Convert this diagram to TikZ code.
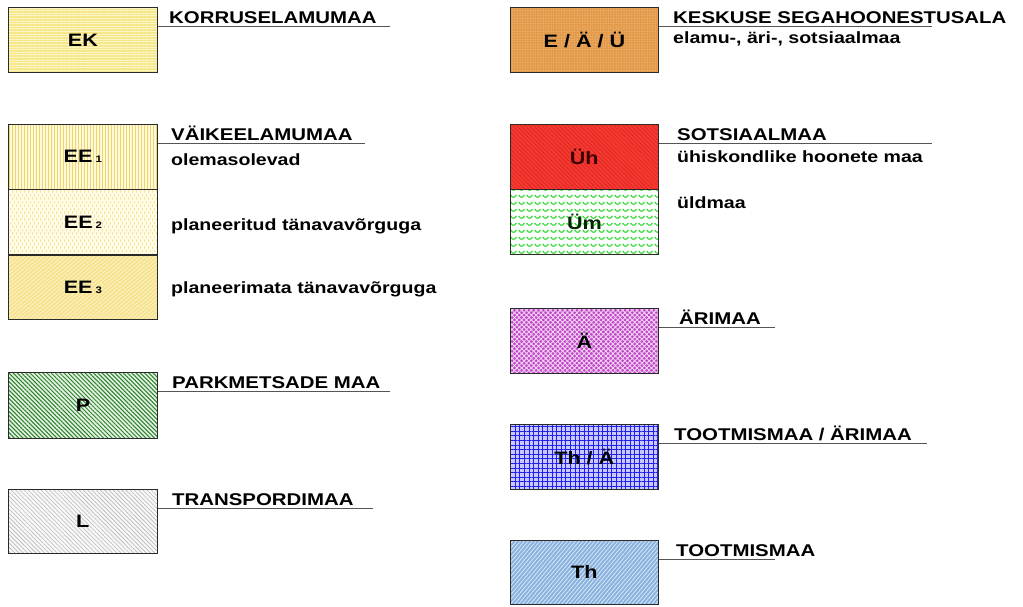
\documentclass[tikz,border=0pt]{standalone}
\usepackage{fontspec}
\setmainfont{Liberation Sans}[FakeStretch=1.2]
\usetikzlibrary{patterns,patterns.meta}
\pgfdeclarepatternformonly{scallop}{\pgfqpoint{0pt}{0pt}}{\pgfqpoint{7.5pt}{7pt}}{\pgfqpoint{7.5pt}{7pt}}{%
  \pgfsetlinewidth{1.4pt}%
  \pgfpathmoveto{\pgfqpoint{0.8pt}{5.6pt}}%
  \pgfpathquadraticcurveto{\pgfqpoint{3.75pt}{0.4pt}}{\pgfqpoint{6.7pt}{5.6pt}}%
  \pgfusepath{stroke}}
\pgfdeclarepatternformonly{vdash}{\pgfqpoint{0pt}{0pt}}{\pgfqpoint{4pt}{7pt}}{\pgfqpoint{4pt}{7pt}}{%
  \pgfsetlinewidth{0.8pt}%
  \pgfpathmoveto{\pgfqpoint{1pt}{0.5pt}}\pgfpathlineto{\pgfqpoint{1pt}{3pt}}%
  \pgfpathmoveto{\pgfqpoint{3pt}{4pt}}\pgfpathlineto{\pgfqpoint{3pt}{6.5pt}}%
  \pgfusepath{stroke}}
\definecolor{bordc}{HTML}{2A2A2A}
\definecolor{linec}{HTML}{555555}
\definecolor{ekfill}{HTML}{F6E78A}\definecolor{ekpat}{HTML}{FCF6CC}
\definecolor{eeafill}{HTML}{FFFAD6}\definecolor{eeapat}{HTML}{EED474}
\definecolor{eebfill}{HTML}{FFFCE8}\definecolor{eebpat}{HTML}{F0D468}
\definecolor{eecfill}{HTML}{F7E38E}\definecolor{eecpat}{HTML}{FDF3CC}
\definecolor{pfill}{HTML}{E2F2E0}\definecolor{ppat}{HTML}{2F7F2F}
\definecolor{lfill}{HTML}{F8F8F8}\definecolor{lpat}{HTML}{B8B8B8}
\definecolor{efill}{HTML}{E39A4A}\definecolor{epat}{HTML}{F0C080}
\definecolor{uhfill}{HTML}{F43A30}\definecolor{uhpat}{HTML}{D82020}
\definecolor{umpat}{HTML}{44DD44}
\definecolor{afill}{HTML}{C048C8}\definecolor{apat}{HTML}{F2D2F2}
\definecolor{tafill}{HTML}{C8C8FF}\definecolor{tapat}{HTML}{2020E8}
\definecolor{thfill}{HTML}{8AB2DE}\definecolor{thpat}{HTML}{D8E8F8}
\definecolor{uhtext}{HTML}{3C0000}
\definecolor{umtext}{HTML}{002800}
\newcommand\hdfont{\fontsize{17}{19}\selectfont\bfseries}
\newcommand\sbfont{\fontsize{16.3}{18}\selectfont\bfseries}
\newcommand\bxfont{\fontsize{18}{20}\selectfont\bfseries}
\newcommand\subdig[1]{\,{\fontsize{9.5}{9.5}\selectfont #1}}
\begin{document}
\begin{tikzpicture}[x=1pt,y=-1pt,
  landbox/.style={draw=bordc, line width=0.9pt, minimum width=149pt, minimum height=65pt,
    inner sep=0pt, anchor=north west, font=\bxfont},
  heading/.style={anchor=base west, inner sep=0pt, font=\hdfont},
  subtext/.style={anchor=base west, inner sep=0pt, font=\sbfont},
  uline/.style={draw=linec, line width=0.9pt}]
\useasboundingbox (0,0) rectangle (1023,606);
% ---------- left column ----------
\node[landbox, preaction={fill=ekfill}, pattern={Lines[angle=0,distance=2.6pt,line width=0.7pt]}, pattern color=ekpat] (ek) at (8,7) {EK};
\node[landbox, preaction={fill=eeafill}, pattern={Lines[angle=90,distance=3pt,line width=0.6pt]}, pattern color=eeapat] (ee1) at (8,124) {EE\subdig{1}};
\node[landbox, preaction={fill=eebfill}, pattern=vdash, pattern color=eebpat] (ee2) at (8,189) {EE\subdig{2}};
\node[landbox, minimum height=64pt, preaction={fill=eecfill}, pattern={Lines[angle=40,distance=3pt,line width=0.8pt]}, pattern color=eecpat] (ee3) at (8,255) {EE\subdig{3}};
\node[landbox, minimum height=66pt, preaction={fill=pfill}, pattern={Lines[angle=-45,distance=3pt,line width=1.0pt]}, pattern color=ppat] (p) at (8,372) {P};
\node[landbox, minimum height=64pt, preaction={fill=lfill}, pattern={Lines[angle=-45,distance=3pt,line width=0.6pt]}, pattern color=lpat] (l) at (8,489) {L};
% ---------- right column ----------
\node[landbox, minimum width=148pt, preaction={fill=efill}, pattern={Dots[distance=2.6pt,radius=0.6pt]}, pattern color=epat] (e) at (510,7) {E / Ä / Ü};
\node[landbox, minimum width=148pt, preaction={fill=uhfill}, pattern={Lines[angle=-45,distance=3pt,line width=0.5pt]}, pattern color=uhpat, text=uhtext] (uh) at (510,124) {Üh};
\node[landbox, minimum width=148pt, preaction={fill=white}, pattern=scallop, pattern color=umpat, text=umtext] (um) at (510,189) {Üm};
\node[landbox, minimum width=148pt, preaction={fill=afill}, pattern={Hatch[angle=45,distance=3.4pt,line width=0.9pt]}, pattern color=apat] (a) at (510,308) {Ä};
\node[landbox, minimum width=148pt, preaction={fill=tafill}, pattern={Hatch[angle=0,distance=4.6pt,line width=0.7pt]}, pattern color=tapat] (ta) at (510,424) {Th / Ä};
\node[landbox, minimum width=148pt, minimum height=64pt, preaction={fill=thfill}, pattern={Lines[angle=50,distance=3pt,line width=0.8pt]}, pattern color=thpat] (th) at (510,540) {Th};
% ---------- headings & texts ----------
\node[heading] (ekh) at (169,23.5) {KORRUSELAMUMAA};
\node[heading] (eeh) at (171,140.5) {VÄIKEELAMUMAA};
\node[subtext] (ee1t) at (171,165) {olemasolevad};
\node[subtext] (ee2t) at (171,230) {planeeritud tänavavõrguga};
\node[subtext] (ee3t) at (171,293) {planeerimata tänavavõrguga};
\node[heading] (ph) at (172,388.5) {PARKMETSADE MAA};
\node[heading] (lh) at (172,505.5) {TRANSPORDIMAA};
\node[heading] (eh) at (673,23.5) {KESKUSE SEGAHOONESTUSALA};
\node[subtext] (et) at (673,43) {elamu-, äri-, sotsiaalmaa};
\node[heading] (sh) at (677,140.5) {SOTSIAALMAA};
\node[subtext] (uht) at (677,162) {ühiskondlike hoonete maa};
\node[subtext] (umt) at (677,208) {üldmaa};
\node[heading] (ah) at (679,324.5) {ÄRIMAA};
\node[heading] (tah) at (674,440.5) {TOOTMISMAA / ÄRIMAA};
\node[heading] (thh) at (676,556.5) {TOOTMISMAA};
% ---------- underline ends ----------
\coordinate (ekend) at (390,26);
\coordinate (eeend) at (365,143);
\coordinate (pend) at (390,391);
\coordinate (lend) at (373,508);
\coordinate (eend) at (932,26);
\coordinate (send) at (932,143);
\coordinate (aend) at (775,327);
\coordinate (taend) at (927,443);
\coordinate (thend) at (775,559);
% ---------- underlines ----------
\draw[uline] (ek.east |- ekend) -- (ekend);
\draw[uline] (ee1.east |- eeend) -- (eeend);
\draw[uline] (p.east |- pend) -- (pend);
\draw[uline] (l.east |- lend) -- (lend);
\draw[uline] (e.east |- eend) -- (eend);
\draw[uline] (uh.east |- send) -- (send);
\draw[uline] (a.east |- aend) -- (aend);
\draw[uline] (ta.east |- taend) -- (taend);
\draw[uline] (th.east |- thend) -- (thend);
\end{tikzpicture}
\end{document}
